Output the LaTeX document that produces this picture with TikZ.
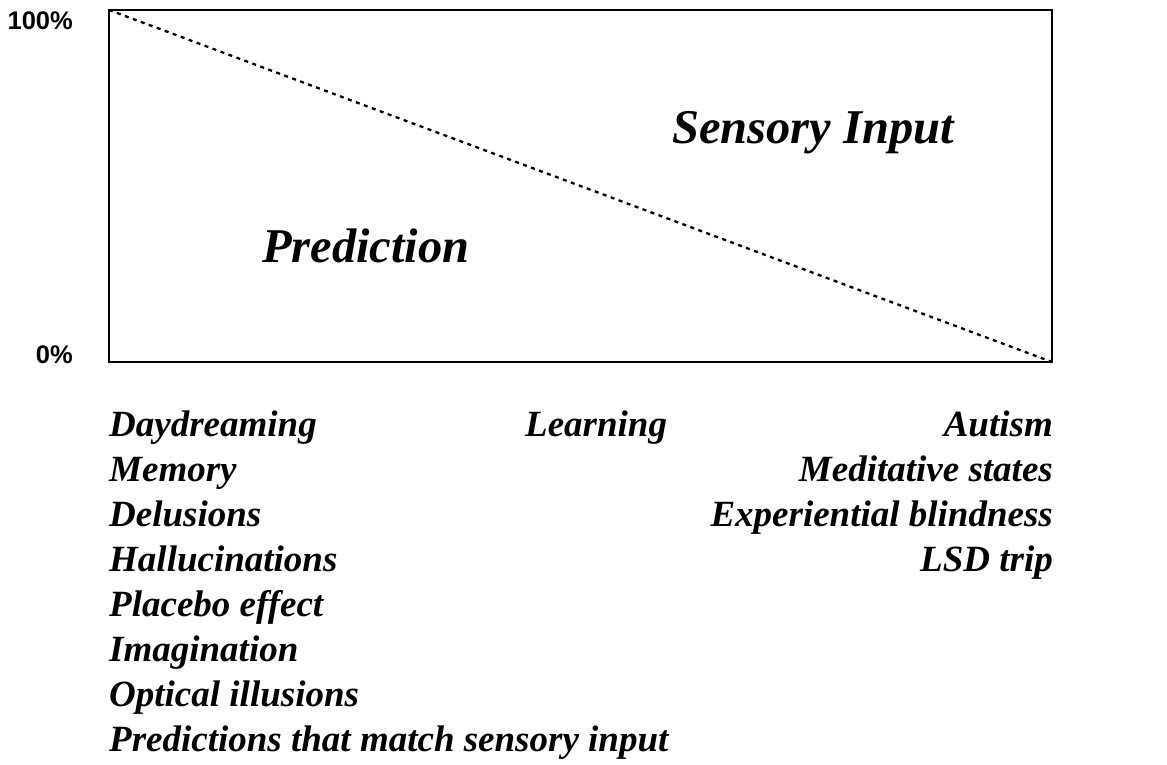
\documentclass[tikz,border=0pt]{standalone}
\usepackage{fontspec}
\setmainfont{Liberation Serif}
\newfontfamily\labfont{Liberation Sans}
\begin{document}
\begin{tikzpicture}[x=1pt,y=-1pt,
  item/.style={font=\fontsize{37}{37}\selectfont\bfseries\itshape, inner sep=0pt},
  big/.style={font=\fontsize{48.5}{48.5}\selectfont\bfseries\itshape, inner sep=0pt},
  pct/.style={font=\fontsize{25.5}{25.5}\selectfont\labfont\bfseries, inner sep=0pt}]
\useasboundingbox (0,0) rectangle (1167,765);
\coordinate (tl) at (109,10);
\coordinate (br) at (1052,362);
\draw[line width=2.2pt] (tl) rectangle (br);
\draw[line width=2.3pt, dash pattern=on 4pt off 4.5pt] (tl) -- (br);
\node[pct, anchor=east] (p100) at (73,21) {100\%};
\node[pct, anchor=east] (p0) at (73,355) {0\%};
\node[big, anchor=base west] (si) at (672,143) {Sensory Input};
\node[big, anchor=base west] (pr) at (262,262) {Prediction};
\foreach \t [count=\i from 0] in {Daydreaming,Memory,Delusions,Hallucinations,Placebo effect,Imagination,Optical illusions,Predictions that match sensory input}
  \node[item, anchor=base west] (l\i) at (109,436+45*\i) {\t};
\node[item, anchor=base west] (learn) at (525,436) {Learning};
\foreach \t [count=\i from 0] in {Autism,Meditative states,Experiential blindness,LSD trip}
  \node[item, anchor=base east] (r\i) at (1053,436+45*\i) {\t};
\end{tikzpicture}
\end{document}
